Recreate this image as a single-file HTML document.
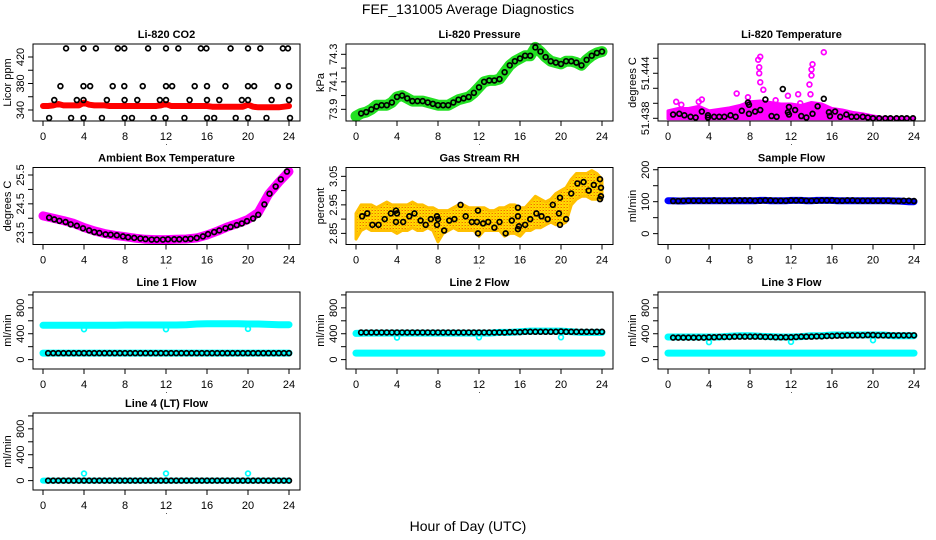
<!DOCTYPE html>
<html><head><meta charset="utf-8"><title>FEF_131005 Average Diagnostics</title>
<style>
html,body{margin:0;padding:0;background:#fff;}
svg{display:block;font-family:"Liberation Sans",Arial,sans-serif;}
</style></head>
<body>
<svg id="chart" width="936" height="540" viewBox="0 0 936 540" xmlns="http://www.w3.org/2000/svg">
<defs>
<pattern id="rhpat" width="3" height="3" patternUnits="userSpaceOnUse"><rect width="3" height="3" fill="#ffe000"/><rect width="1" height="1" fill="#f07000"/><rect x="1.5" y="1.5" width="1" height="1" fill="#ff9900"/><rect x="2" y="0" width="1" height="1" fill="#ffaa00"/></pattern>
</defs>
<text x="468" y="14" text-anchor="middle" font-size="14">FEF_131005  Average Diagnostics</text>
<text x="468" y="531" text-anchor="middle" font-size="14">Hour of Day (UTC)</text>
</svg>
<script>
// ---------- data ----------
const hours = [0,1,2,3,4,5,6,7,8,9,10,11,12,13,14,15,16,17,18,19,20,21,22,23,24];
const halfHours = [0,0.5,1,1.5,2,2.5,3,3.5,4,4.5,5,5.5,6,6.5,7,7.5,8,8.5,9,9.5,10,10.5,11,11.5,12,12.5,13,13.5,14,14.5,15,15.5,16,16.5,17,17.5,18,18.5,19,19.5,20,20.5,21,21.5,22,22.5,23,23.5,24];
const meanHours = [0.5,1,1.5,2,2.5,3,3.5,4,4.5,5,5.5,6,6.5,7,7.5,8,8.5,9,9.5,10,10.5,11,11.5,12,12.5,13,13.5,14,14.5,15,15.5,16,16.5,17,17.5,18,18.5,19,19.5,20,20.5,21,21.5,22,22.5,23,23.5,24];
const xTicks = [0,4,8,12,16,20,24];

// CO2
const co2Red = [346,346,347,349,347,347,347,347,351,348,347,347,347,346,346,346,346,346,346,346,346,346,346,347,349,346,346,346,346,346,346,346,346,345,345,345,345,345,345,345,348,345,344,344,344,344,344,345,346];
const co2BlackT = [2.25,3.95,5.16,7.3,7.93,10.25,12.0,13.2,15.4,15.94,18.3,20.0,21.2,23.4,23.9, 1.7,3.95,4.6,6.8,7.93,9.73,12.0,12.6,14.8,16.0,17.8,20.0,20.6,22.9,24.0, 1.1,3.3,3.95,6.23,7.96,9.2,11.4,12.0,14.3,16.0,17.2,19.4,20.0,22.3,24.0, 0.6,2.74,3.95,5.75,7.96,8.68,10.8,11.95,13.8,16.0,16.7,18.8,20.0,21.8,24.1];
const co2BlackV = [433,433,433,433,433,433,433,433,433,433,433,433,433,433,433, 376,376,376,376,376,376,376,376,376,376,376,376,376,376,376, 355,355,355,355,355,355,355,355,355,355,355,355,355,355,355, 328,328,328,328,328,328,328,328,328,328,328,328,328,328,328];

// Pressure
const presGreen = [73.85,73.87,73.88,73.9,73.93,73.93,73.93,73.95,73.99,74.0,73.98,73.96,73.96,73.96,73.95,73.94,73.93,73.93,73.93,73.95,73.97,73.98,73.99,74.02,74.06,74.1,74.11,74.11,74.12,74.17,74.22,74.25,74.27,74.29,74.29,74.35,74.32,74.28,74.25,74.24,74.23,74.25,74.25,74.24,74.22,74.26,74.29,74.31,74.32];
const presBlack = [73.87,73.88,73.9,73.92,73.93,73.93,73.95,73.99,74.0,73.98,73.96,73.96,73.96,73.95,73.94,73.93,73.93,73.93,73.95,73.97,73.98,73.99,74.02,74.06,74.1,74.11,74.11,74.12,74.17,74.22,74.25,74.27,74.29,74.29,74.35,74.32,74.28,74.25,74.24,74.23,74.25,74.25,74.24,74.22,74.26,74.29,74.31,74.32];

// Li-820 temperature
const tempHi = [51.4390,51.4393,51.4393,51.4396,51.4390,51.4392,51.4394,51.4397,51.4402,51.4403,51.4401,51.4399,51.4399,51.4397,51.4401,51.4399,51.4393,51.4391,51.4388,51.4386,51.4383,51.4381,51.4381,51.4381,51.4380];
const tempLo = [51.43795,51.43795,51.43795,51.43795,51.43795,51.43795,51.43795,51.43795,51.43795,51.43795,51.43795,51.43795,51.43795,51.43795,51.43795,51.43795,51.43795,51.43795,51.43795,51.43795,51.43795,51.43795,51.43795,51.43795,51.43795];
const tempOutT = [8.8,9.0,8.9,8.9,9.0,9.3,6.7,7.8,11.7,12.7,13.8,14.0,14.1,14.0,15.2,13.9,3.3,0.8,1.3,3.0,10.5,12.9];
const tempOutV = [51.4458,51.4462,51.4448,51.444,51.4428,51.4418,51.4413,51.4408,51.441,51.4412,51.4425,51.4445,51.4452,51.4437,51.4468,51.4412,51.4405,51.4402,51.4398,51.4402,51.4404,51.4400];
const tempBlackT = [0.5,1.1,1.6,2.2,2.7,3.3,3.9,3.9,4.5,5,5.5,6.1,6.6,7.2,7.8,7.9,7.9,8.5,9,9.5,10.1,10.6,11.2,11.7,11.8,11.8,12.4,13,13.5,14.1,14.6,15.2,15.7,15.8,16.3,16.8,17.4,17.9,18.4,19,19.5,20,20.6,21.2,21.7,22.3,22.8,23.3,23.9];
const tempBlackV = [51.4385,51.4386,51.4384,51.4382,51.4381,51.4389,51.4384,51.4381,51.4382,51.4382,51.4382,51.4384,51.4382,51.4390,51.4401,51.4398,51.4386,51.4389,51.4391,51.4405,51.4383,51.4382,51.4419,51.4388,51.4385,51.4395,51.4391,51.4383,51.4381,51.4386,51.4396,51.4406,51.4388,51.4383,51.4389,51.4382,51.4385,51.4382,51.4382,51.4382,51.4381,51.438,51.438,51.438,51.438,51.438,51.438,51.438,51.438];

// Ambient box temperature
const ambMagenta = [24.08,24.0,23.92,23.82,23.68,23.56,23.47,23.41,23.36,23.31,23.27,23.26,23.26,23.27,23.28,23.32,23.42,23.55,23.7,23.82,23.96,24.2,24.83,25.25,25.62];
const ambBlackT = [0.6,1.1,1.6,2.2,2.7,3.3,3.9,4.5,5,5.5,6.1,6.6,7.2,7.8,8.3,8.9,9.5,10,10.6,11.1,11.7,12.2,12.8,13.3,13.9,14.4,15,15.6,16.1,16.7,17.2,17.8,18.3,18.9,19.4,19.9,20.5,21,21.6,22.1,22.7,23.2,23.8];
const ambBlackV = [24.02,23.96,23.91,23.87,23.79,23.74,23.65,23.58,23.52,23.49,23.44,23.43,23.41,23.37,23.34,23.32,23.3,23.28,23.26,23.26,23.26,23.27,23.27,23.27,23.28,23.29,23.32,23.37,23.45,23.52,23.58,23.65,23.7,23.76,23.82,23.9,23.99,24.12,24.48,24.85,25.1,25.35,25.62];

// Gas stream RH
const rhHi = [2.92,2.95,2.95,2.95,2.94,2.95,2.96,2.95,2.95,2.95,2.95,2.96,2.95,2.95,2.94,2.94,2.93,2.93,2.93,2.94,2.95,2.95,2.94,2.94,2.94,2.94,2.93,2.93,2.94,2.94,2.95,2.95,2.94,2.94,2.96,2.98,2.97,2.96,2.97,2.99,3.00,3.01,3.04,3.06,3.06,3.06,3.07,3.06,3.04];
const rhLo = [2.83,2.86,2.87,2.86,2.86,2.86,2.86,2.86,2.85,2.86,2.86,2.87,2.86,2.86,2.87,2.86,2.82,2.85,2.86,2.87,2.86,2.86,2.86,2.86,2.84,2.86,2.86,2.86,2.86,2.84,2.85,2.85,2.84,2.86,2.86,2.87,2.87,2.88,2.89,2.88,2.88,2.89,2.95,2.97,2.98,2.98,2.97,2.97,2.97];
const rhBlackT = [0.6,1.1,1.6,2.2,2.8,3.4,3.9,3.9,4.0,4.6,5.2,5.7,6.3,6.8,7.3,7.9,7.9,8.0,8.6,9.1,9.6,10.2,10.7,11.3,11.8,11.9,11.9,12.4,12.9,13.5,14.0,14.6,15.2,15.8,15.8,15.9,15.8,16.5,17.0,17.6,18.1,18.7,19.2,19.8,19.9,19.9,20.5,21.0,21.6,22.2,22.7,23.2,23.8,23.9,23.9,23.8];
const rhBlackV = [2.91,2.92,2.88,2.88,2.90,2.92,2.93,2.89,2.92,2.89,2.91,2.92,2.895,2.88,2.90,2.91,2.88,2.90,2.86,2.895,2.90,2.95,2.91,2.89,2.89,2.93,2.85,2.885,2.89,2.87,2.89,2.85,2.895,2.94,2.91,2.875,2.865,2.88,2.90,2.92,2.91,2.90,2.95,2.92,2.975,2.88,2.90,2.99,3.025,3.03,3.00,3.02,3.04,3.01,2.98,2.97];

// Sample flow
const sampleBlue = [103,103,102,102,103,103,103,103,103,103,103,103,103,103,103,103,103,103,104,104,103,103,103,103,104,104,104,103,103,104,104,104,104,103,103,103,103,103,103,103,103,103,103,103,102,102,101,100,100];
const sampleBlack = [102,102,103,103,103,103,103,103,104,103,103,103,104,104,104,104,103,103,104,104,103,103,103,104,104,104,103,103,103,104,104,104,103,103,104,104,103,103,103,103,103,103,103,103,102,103,103,102];

// Line flows
const line1Cyan = [530,530,530,530,530,530,530,530,535,535,535,535,535,535,540,550,555,555,555,555,550,550,545,540,540];
const line1Low = [100,100,100,100,100,100,100,100,100,100,100,100,100,100,100,100,100,100,100,100,100,100,100,100,100];
const line1Black = [100,100,100,100,100,100,100,100,100,100,100,100,100,100,100,100,100,100,100,100,100,100,100,100,100,100,100,100,100,100,100,100,100,100,100,100,100,100,100,100,100,100,100,100,100,100,100,100];
const line2Cyan = [405,410,410,410,410,410,410,410,410,410,410,410,410,410,420,420,430,440,440,440,440,430,420,420,420];
const line2Low = [100,100,100,100,100,100,100,100,100,100,100,100,100,100,100,100,100,100,100,100,100,100,100,100,100];
const line2Black = [420,420,420,420,420,420,420,420,420,420,420,420,420,420,420,420,420,420,420,420,420,420,420,420,420,420,420,420,420,425,425,425,430,430,430,430,430,430,430,435,430,430,430,430,430,430,430,430];
const line3Cyan = [350,350,350,350,350,350,360,370,370,360,355,350,350,355,370,370,380,380,380,380,380,380,370,370,370];
const line3Low = [100,100,100,100,100,100,100,100,100,100,100,100,100,100,100,100,100,100,100,100,100,100,100,100,100];
const line3Black = [340,340,340,340,340,340,340,345,345,350,350,350,355,355,355,355,355,355,350,350,345,345,345,345,350,355,355,355,360,360,365,365,370,370,375,375,375,375,380,380,375,375,375,375,375,375,375,375];
const line4Cyan = [0,0,0,0,0,0,0,0,0,0,0,0,0,0,0,0,0,0,0,0,0,0,0,0,0];
const line4Black = [0,0,0,0,0,0,0,0,0,0,0,0,0,0,0,0,0,0,0,0,0,0,0,0,0,0,0,0,0,0,0,0,0,0,0,0,0,0,0,0,0,0,0,0,0,0,0,0];
const dipHours = [4,12,20];
const line1Dip = [470,470,475];
const line2Dip = [340,345,345];
const line3Dip = [270,275,300];
const line4Dip = [110,110,110];

// tick values / labels
const co2Ticks = [340,360,380,400,420]; const co2Labels = ["340","380","420"];
const presTicks = [73.9,74.0,74.1,74.2,74.3]; const presLabels = ["73.9","74.1","74.3"];
const tempTicks = [51.438,51.440,51.442,51.444,51.446]; const tempLabels = ["51.438","51.444"];
const ambTicks = [23.5,24.0,24.5,25.0,25.5]; const ambLabels = ["23.5","24.5","25.5"];
const rhTicks = [2.85,2.90,2.95,3.00,3.05]; const rhLabels = ["2.85","2.95","3.05"];
const sampleTicks = [0,50,100,150,200]; const sampleLabels = ["0","100","200"];
const flowTicks = [0,200,400,600,800,1000]; const flowLabels = ["0","400","800"];

// ---------- drawing ----------
const NS = "http://www.w3.org/2000/svg";
const svg = document.getElementById('chart');
const colLeft = [33,346,658];
const rowTop = [44,167.5,292,413];
const BW = 267, BH = 77;

function mk(tag, attrs, parent){
  const e = document.createElementNS(NS, tag);
  for (const k in attrs) e.setAttribute(k, attrs[k]);
  (parent||svg).appendChild(e);
  return e;
}

function panel(col,row,title,ylab,yMin,yMax,ticks,labelVals,labels,name){
  const g = mk('g',{});
  
  
  const L = colLeft[col], T = rowTop[row];
  const x0 = L + 10, x1 = L + BW - 11;
  const X = h => x0 + (h/24)*(x1-x0);
  const Y = v => T + BH - (v - yMin)/(yMax - yMin)*BH;
  const plot = mk('g',{},g);
  
  
  const box = mk('rect',{x:L,y:T,width:BW,height:BH,fill:'none',stroke:'#000','stroke-width':1},g);
  
  
  const t = mk('text',{x:L+BW/2,y:T-6,'text-anchor':'middle','font-size':11,'font-weight':'bold'},g);
  t.textContent = title;
  
  
  const xa = mk('g',{},g);
  
  
  mk('line',{x1:X(0),x2:X(24),y1:T+BH,y2:T+BH,stroke:'#000'},xa);
  xTicks.forEach(h=>{
    mk('line',{x1:X(h),x2:X(h),y1:T+BH,y2:T+BH+5,stroke:'#000'},xa);
    const lt = mk('text',{x:X(h),y:T+BH+19,'text-anchor':'middle','font-size':11},xa);
    lt.textContent = String(h);
    
    
  });
  const ya = mk('g',{},g);
  
  
  const inT = ticks.filter(v=>Y(v)>=T-3 && Y(v)<=T+BH);
  mk('line',{x1:L,x2:L,y1:Y(inT[0]),y2:Y(inT[inT.length-1]),stroke:'#000'},ya);
  inT.forEach(v=>mk('line',{x1:L-5,x2:L,y1:Y(v),y2:Y(v),stroke:'#000'},ya));
  labelVals.forEach((v,i)=>{
    const yy = Y(v);
    const lt = mk('text',{x:L-9,y:yy,'text-anchor':'middle','font-size':11,transform:`rotate(-90 ${L-9} ${yy})`},ya);
    lt.textContent = labels[i];
    
    
  });
  const yt = mk('text',{x:L-22,y:T+BH/2,'text-anchor':'middle','font-size':11,transform:`rotate(-90 ${L-22} ${T+BH/2})`},ya);
  yt.textContent = ylab;
  
  
  const dot = mk('text',{x:L+BW/2,y:T+BH+24,'text-anchor':'middle','font-size':8},g);
  dot.textContent = '.';
  
  
  return {X,Y,g:plot};
}

function band(p, ts, vs, color, width, name){
  const pts = ts.map((h,i)=>p.X(h).toFixed(1)+','+p.Y(vs[i]).toFixed(1)).join(' ');
  const e = mk('polyline',{points:pts,fill:'none',stroke:color,'stroke-width':width,'stroke-linejoin':'round','stroke-linecap':'round'},p.g);
  
  
}
function area(p, ts, hi, lo, fill, edge, name){
  const a = ts.map((h,i)=>p.X(h).toFixed(1)+','+p.Y(hi[i]).toFixed(1));
  const b = ts.map((h,i)=>p.X(h).toFixed(1)+','+p.Y(lo[i]).toFixed(1)).reverse();
  const e = mk('polygon',{points:a.concat(b).join(' '),fill:fill,stroke:edge,'stroke-width':3,'stroke-linejoin':'round'},p.g);
  
  
}
function circles(p, ts, vs, color, name){
  ts.forEach((h,i)=>{
    const c = mk('circle',{cx:p.X(h),cy:p.Y(vs[i]),r:2.4,fill:'none',stroke:color,'stroke-width':1.7},p.g);
    
    
  });
}

let p = panel(0,0,'Li-820 CO2','Licor ppm',323.4,439.6,co2Ticks,[340,380,420],co2Labels,'co2');
band(p, halfHours, co2Red, '#ff0000', 6, 'co2-red-series');
circles(p, co2BlackT, co2BlackV, '#000', 'co2-mean-point');

p = panel(1,0,'Li-820 Pressure','kPa',73.815,74.375,presTicks,[73.9,74.1,74.3],presLabels,'pressure');
band(p, halfHours, presGreen, '#22e022', 11, 'pressure-green-series');
circles(p, meanHours, presBlack, '#000', 'pressure-mean-point');

p = panel(2,0,'Li-820 Temperature','degrees C',51.43764,51.4479,tempTicks,[51.438,51.444],tempLabels,'li820-temp');
area(p, hours, tempHi, tempLo, '#ff00ff', '#ff00ff', 'temp-magenta-band');
circles(p, tempOutT, tempOutV, '#ff00ff', 'temp-outlier-point');
circles(p, tempBlackT, tempBlackV, '#000', 'temp-mean-point');

p = panel(0,1,'Ambient Box Temperature','degrees C',23.09,25.76,ambTicks,[23.5,24.5,25.5],ambLabels,'ambient');
band(p, hours, ambMagenta, '#ff00ff', 9, 'ambient-magenta-series');
circles(p, ambBlackT, ambBlackV, '#000', 'ambient-mean-point');

p = panel(1,1,'Gas Stream RH','percent',2.811,3.081,rhTicks,[2.85,2.95,3.05],rhLabels,'rh');
area(p, halfHours, rhHi, rhLo, 'url(#rhpat)', '#ffc000', 'rh-orange-band');
circles(p, rhBlackT, rhBlackV, '#000', 'rh-mean-point');

p = panel(2,1,'Sample Flow','ml/min',-34,207,sampleTicks,[0,100,200],sampleLabels,'sample-flow');
band(p, halfHours, sampleBlue, '#0000ff', 7, 'sample-blue-series');
circles(p, meanHours, sampleBlack, '#000', 'sample-mean-point');

const flowMin = -145, flowMax = 1045;
p = panel(0,2,'Line 1 Flow','ml/min',flowMin,flowMax,flowTicks,[0,400,800],flowLabels,'line1-flow');
band(p, hours, line1Cyan, '#00ffff', 7, 'line1-cyan-high');
band(p, hours, line1Low, '#00ffff', 7, 'line1-cyan-low');
circles(p, dipHours, line1Dip, '#00ffff', 'line1-dip-point');
circles(p, meanHours, line1Black, '#000', 'line1-mean-point');

p = panel(1,2,'Line 2 Flow','ml/min',flowMin,flowMax,flowTicks,[0,400,800],flowLabels,'line2-flow');
band(p, hours, line2Cyan, '#00ffff', 7, 'line2-cyan-high');
band(p, hours, line2Low, '#00ffff', 7, 'line2-cyan-low');
circles(p, dipHours, line2Dip, '#00ffff', 'line2-dip-point');
circles(p, meanHours, line2Black, '#000', 'line2-mean-point');

p = panel(2,2,'Line 3 Flow','ml/min',flowMin,flowMax,flowTicks,[0,400,800],flowLabels,'line3-flow');
band(p, hours, line3Cyan, '#00ffff', 7, 'line3-cyan-high');
band(p, hours, line3Low, '#00ffff', 7, 'line3-cyan-low');
circles(p, dipHours, line3Dip, '#00ffff', 'line3-dip-point');
circles(p, meanHours, line3Black, '#000', 'line3-mean-point');

p = panel(0,3,'Line 4 (LT) Flow','ml/min',flowMin,flowMax,flowTicks,[0,400,800],flowLabels,'line4-flow');
band(p, hours, line4Cyan, '#00ffff', 6, 'line4-cyan-series');
circles(p, dipHours, line4Dip, '#00ffff', 'line4-dip-point');
circles(p, meanHours, line4Black, '#000', 'line4-mean-point');
</script>
</body></html>
